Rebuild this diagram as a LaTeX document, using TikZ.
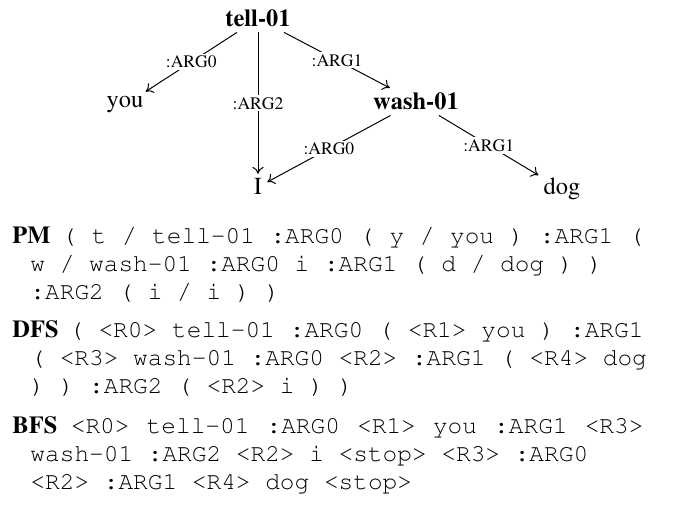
\documentclass[tikz,border=0pt]{standalone}
\usepackage[T1]{fontenc}
\usepackage{times}
\usetikzlibrary{arrows.meta}
\def\hangsep{0.45cm}
\def\linelen{15.775cm}
\newcommand{\amr}[1]{\texttt{\spaceskip=0pt\xspaceskip=0pt\relax #1}}
\newcommand{\amrhead}[2]{\makebox[\linelen][s]{\textbf{#1}\hskip .4em plus .3em\texttt{\spaceskip=.6em plus .2em\relax #2}}}
\tikzstyle{edge label} = [fill=white, inner sep=1.5pt, font=\fontsize{12.5}{14}\selectfont]

\begin{document}
\begin{tikzpicture}[->, >={To[length=5pt,width=8pt]}, line width=0.7pt]
    \tikzstyle{concept}=[font=\fontsize{17.4}{20}\selectfont, anchor=base]
    \tikzstyle{event concept}=[concept, font=\fontsize{17.4}{20}\selectfont\bfseries]
    \tikzstyle{linear}=[anchor=base west, inner sep=0pt, text width=16.5cm, align=left, font=\fontsize{17.4}{19.6}\selectfont]

    \useasboundingbox (0,0) rectangle (17,-13);

    % Draw the concept nodes of the graph
    \node[event concept] (tell) at (6.45,-0.675) {tell-01};
    \node[concept] (you) at (3.125,-2.7) {you};
    \node[event concept] (wash) at (10.4,-2.75) {wash-01};
    \node[concept] (i) at (6.45,-4.875) {I};
    \node[concept] (dog) at (14.05,-4.875) {dog};

    % Connect the concepts by their relations
    \path (tell) edge node[edge label] {:ARG0} (you);
    \path (tell) edge node[edge label] {:ARG2} (i);
    \path (tell) edge node[edge label] {:ARG1} (wash);
    \path (wash) edge node[edge label] {:ARG0} (i);
    \path (wash) edge node[edge label] {:ARG1} (dog);

    % Write out the linearizations
    \node[linear] (pm) at (0.3,-6.1) {\amrhead{PM}{( t / tell-01 :ARG0 ( y / you ) :ARG1 (}\\
        \hspace*{\hangsep}\amr{w / wash-01 :ARG0 i :ARG1 ( d / dog ) )}\\
        \hspace*{\hangsep}\amr{:ARG2 ( i / i ) )}};
    \node[linear] (dfs) at (0.3,-8.45) {\amrhead{DFS}{( <R0> tell-01 :ARG0 ( <R1> you ) :ARG1}\\
        \hspace*{\hangsep}\amr{( <R3> wash-01 :ARG0 <R2> :ARG1 ( <R4> dog}\\
        \hspace*{\hangsep}\amr{) ) :ARG2 ( <R2> i ) )}};
    \node[linear] (bfs) at (0.3,-10.85) {\amrhead{BFS}{<R0> tell-01 :ARG0 <R1> you :ARG1 <R3>}\\
        \hspace*{\hangsep}\amr{wash-01 :ARG2 <R2> i <stop> <R3> :ARG0}\\
        \hspace*{\hangsep}\amr{<R2> :ARG1 <R4> dog <stop>}};
\end{tikzpicture}
\end{document}
